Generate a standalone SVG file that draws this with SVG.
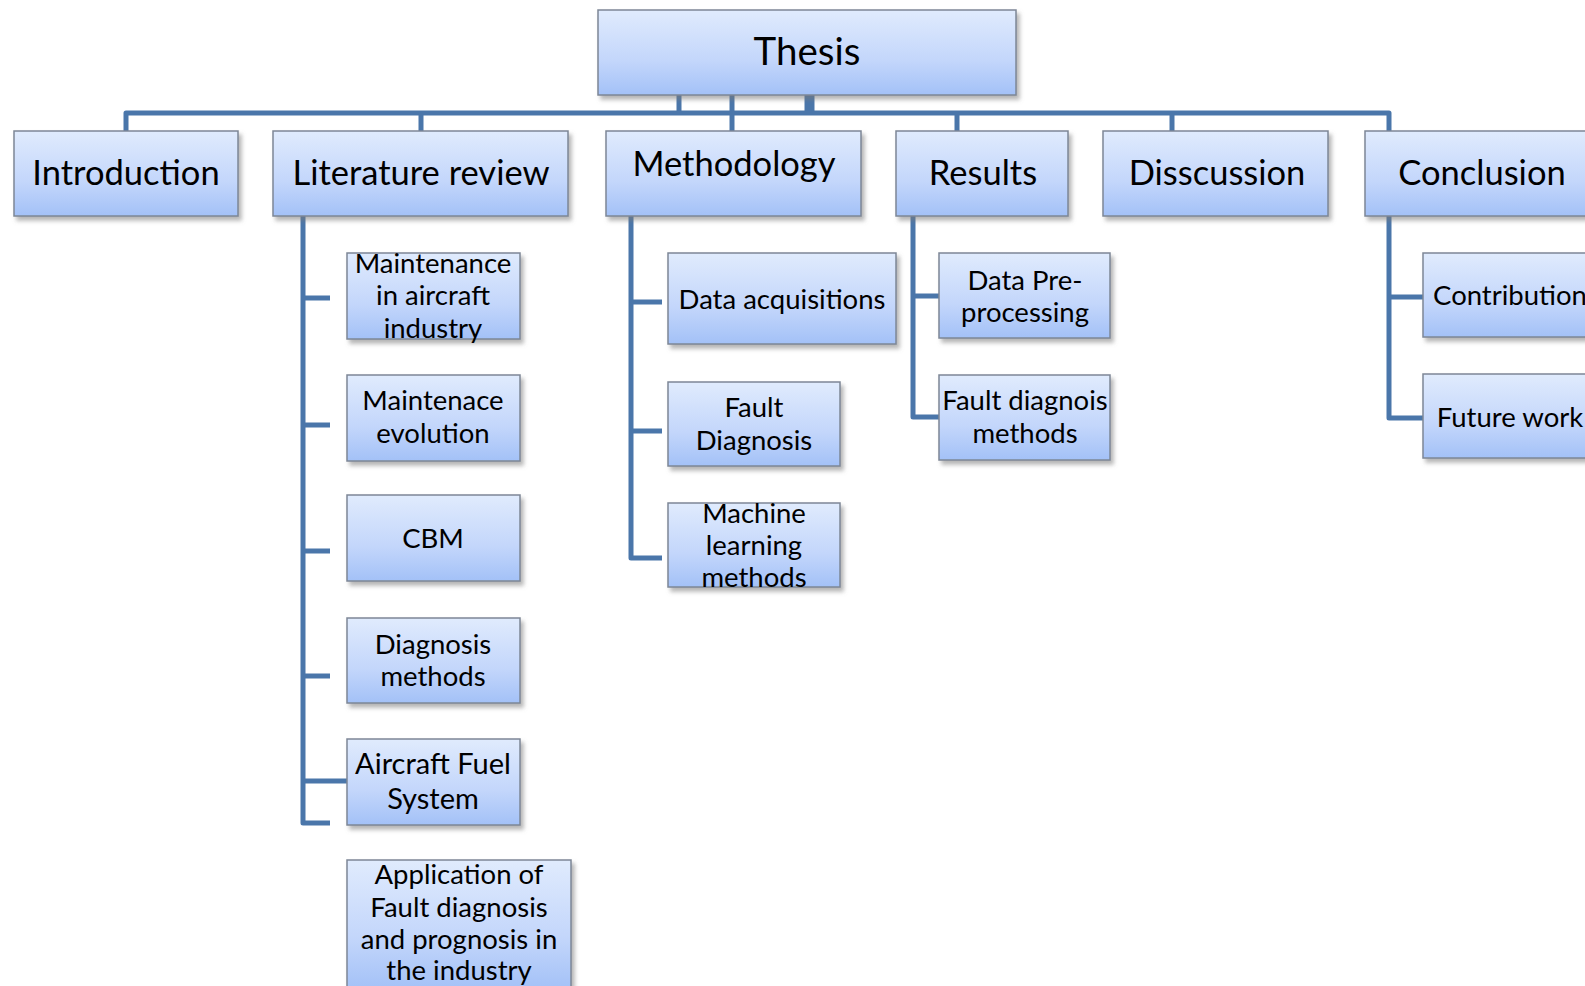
<svg xmlns="http://www.w3.org/2000/svg" width="1585" height="986" viewBox="0 0 1585 986">
<defs>
<linearGradient id="g" x1="0" y1="0" x2="0" y2="1">
<stop offset="0" stop-color="#e0ebfd"/>
<stop offset="0.6" stop-color="#c3d6fb"/>
<stop offset="1" stop-color="#a3c1f7"/>
</linearGradient>
<filter id="sh" x="-10%" y="-10%" width="125%" height="135%">
<feDropShadow dx="3" dy="4" stdDeviation="2" flood-color="#7a7a7a" flood-opacity="0.55"/>
</filter>
</defs>
<style>
.box{fill:url(#g);stroke:#7d8796;stroke-width:1.5;filter:url(#sh)}
.t{font-family:Lato,"Open Sans","Liberation Sans",sans-serif;fill:#000;text-anchor:middle}
.t1{font-size:38.5px}
.t2{font-size:34.5px}
.t3{font-size:27.5px}
.c{fill:none;stroke:#4a76aa;stroke-width:5;stroke-linejoin:round}
</style>
<rect width="1585" height="986" fill="#fff"/>
<g id="connectors">
<path class="c" d="M126,131 V113 H1389 V131"/>
<path class="c" d="M421,131 V113 M732,95 V131 M957,131 V113 M1172,131 V113 M679,95 V113 M807,95 V113 M812,95 V113"/>
<path class="c" d="M303,216 V823 H330 M303,298 H330 M303,425 H330 M303,551 H330 M303,676 H330 M303,781 H347"/>
<path class="c" d="M631,216 V558 H662 M631,302 H662 M631,431 H662"/>
<path class="c" d="M913,216 V417 H939 M913,296 H939"/>
<path class="c" d="M1389,216 V418 H1423 M1389,297 H1423"/>
</g>
<g id="thesis"><rect class="box" x="598" y="10" width="418" height="85"/><text class="t t1" x="807" y="65">Thesis</text></g>
<g id="introduction"><rect class="box" x="14" y="131" width="224" height="85"/><text class="t t2" x="126" y="185">Introduction</text></g>
<g id="literature"><rect class="box" x="273" y="131" width="295" height="85"/><text class="t t2" x="421" y="185">Literature review</text></g>
<g id="methodology"><rect class="box" x="606" y="131" width="255" height="85"/><text class="t t2" x="734" y="176">Methodology</text></g>
<g id="results"><rect class="box" x="896" y="131" width="172" height="85"/><text class="t t2" x="983" y="185">Results</text></g>
<g id="discussion"><rect class="box" x="1103" y="131" width="225" height="85"/><text class="t t2" x="1217" y="185">Disscussion</text></g>
<g id="conclusion"><rect class="box" x="1365" y="131" width="240" height="85"/><text class="t t2" x="1482" y="185">Conclusion</text></g>

<g id="lit1"><rect class="box" x="347" y="253" width="173" height="86"/><text class="t t3" x="433" y="273">Maintenance</text><text class="t t3" x="433" y="305">in aircraft</text><text class="t t3" x="433" y="338">industry</text></g>
<g id="lit2"><rect class="box" x="347" y="375" width="173" height="86"/><text class="t t3" x="433" y="410">Maintenace</text><text class="t t3" x="433" y="443">evolution</text></g>
<g id="lit3"><rect class="box" x="347" y="495" width="173" height="86"/><text class="t t3" x="433" y="548">CBM</text></g>
<g id="lit4"><rect class="box" x="347" y="618" width="173" height="85"/><text class="t t3" x="433" y="654">Diagnosis</text><text class="t t3" x="433" y="686">methods</text></g>
<g id="lit5"><rect class="box" x="347" y="739" width="173" height="86"/><text class="t t3" x="433" y="774" style="font-size:29px">Aircraft Fuel</text><text class="t t3" x="433" y="809" style="font-size:29px">System</text></g>
<g id="lit6"><rect class="box" x="347" y="860" width="224" height="130"/><text class="t t3" x="459" y="884">Application of</text><text class="t t3" x="459" y="917">Fault diagnosis</text><text class="t t3" x="459" y="949">and prognosis in</text><text class="t t3" x="459" y="980">the industry</text></g>

<g id="meth1"><rect class="box" x="668" y="253" width="228" height="91"/><text class="t t3" x="782" y="309">Data acquisitions</text></g>
<g id="meth2"><rect class="box" x="668" y="382" width="172" height="84"/><text class="t t3" x="754" y="417">Fault</text><text class="t t3" x="754" y="450">Diagnosis</text></g>
<g id="meth3"><rect class="box" x="668" y="503" width="172" height="84"/><text class="t t3" x="754" y="523">Machine</text><text class="t t3" x="754" y="555">learning</text><text class="t t3" x="754" y="587">methods</text></g>

<g id="res1"><rect class="box" x="939" y="253" width="171" height="85"/><text class="t t3" x="1025" y="290">Data Pre-</text><text class="t t3" x="1025" y="322">processing</text></g>
<g id="res2"><rect class="box" x="939" y="375" width="171" height="85"/><text class="t t3" x="1025" y="410">Fault diagnois</text><text class="t t3" x="1025" y="443">methods</text></g>

<g id="con1"><rect class="box" x="1423" y="253" width="180" height="84"/><text class="t t3" x="1510" y="305">Contribution</text></g>
<g id="con2"><rect class="box" x="1423" y="374" width="180" height="84"/><text class="t t3" x="1510" y="427">Future work</text></g>
</svg>
